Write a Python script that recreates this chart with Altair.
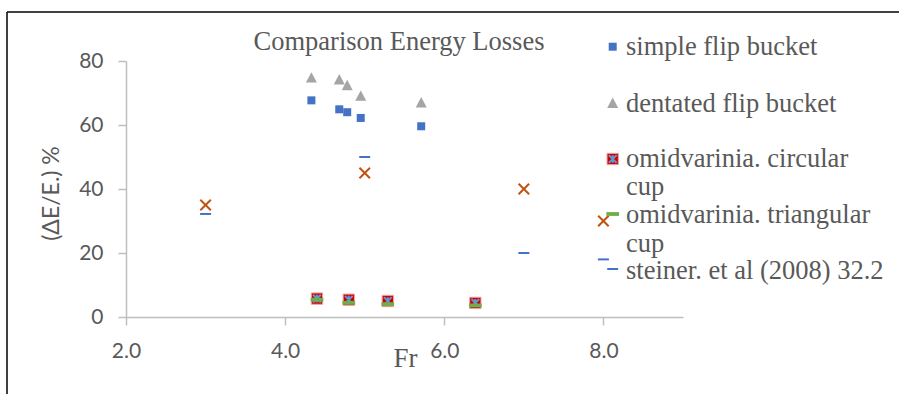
import altair as alt
import pandas as pd

# ---------------- data ----------------
series_names = [
    "simple flip bucket",
    "dentated flip bucket",
    "omidvarinia. circular cup",
    "omidvarinia. triangular cup",
    "steiner. et al (2008) 32.2",
    "unlabelled series",
]
simple_fr = [4.33, 4.68, 4.78, 4.95, 5.71]
simple_loss = [67.7, 64.9, 64.0, 62.2, 59.6]
dentated_fr = [4.33, 4.68, 4.78, 4.95, 5.71]
dentated_loss = [74.8, 74.2, 72.4, 69.1, 67.0]
circular_fr = [4.40, 4.80, 5.29, 6.39]
circular_loss = [5.75, 5.4, 5.0, 4.4]
triangular_fr = [4.40, 4.80, 5.29, 6.39]
triangular_loss = [5.4, 4.4, 4.0, 3.6]
steiner_fr = [3.0, 5.0, 7.0, 8.0]
steiner_loss = [32.2, 50.0, 20.0, 18.0]
other_fr = [3.0, 5.0, 7.0, 8.0]
other_loss = [35.0, 45.0, 40.0, 30.0]

x_ticks = [2.0, 4.0, 6.0, 8.0]
y_ticks = [0, 20, 40, 60, 80]
chart_title = "Comparison Energy Losses"
x_title = "Fr"
y_title = "(\u0394E/E.) %"
legend_labels = [
    "simple flip bucket",
    "dentated flip bucket",
    "omidvarinia. circular\ncup",
    "omidvarinia. triangular\ncup",
    "steiner. et al (2008) 32.2",
]

pairs = [
    (simple_fr, simple_loss),
    (dentated_fr, dentated_loss),
    (circular_fr, circular_loss),
    (triangular_fr, triangular_loss),
    (steiner_fr, steiner_loss),
    (other_fr, other_loss),
]
rows = []
for name, (xs, ys) in zip(series_names, pairs):
    for xv, yv in zip(xs, ys):
        rows.append({"series": name, "Fr": xv, "loss": yv})
df = pd.DataFrame(rows)

# ---------------- styling ----------------
GREY_TXT = "#595959"
AXIS_COL = "#BFBFBF"

styles = {
    series_names[0]: [dict(shape="square", filled=True, size=64, color="#4472C4", opacity=1)],
    series_names[1]: [dict(shape="M0,-1L1,0.9L-1,0.9Z", filled=True, size=121, color="#A5A5A5", opacity=1)],
    series_names[2]: [
        dict(shape="square", filled=True, size=128, color="#D00000", stroke="#F2A0A0", strokeWidth=1, opacity=1),
        dict(shape="M-1,-1L1,1M1,-1L-1,1M0,-1L0,1", filled=False, size=60, color="#5B9BD5", strokeWidth=2, opacity=1),
    ],
    series_names[3]: [dict(shape="M-1,-0.3H1V0.3H-1Z", filled=True, size=161, color="#70AD47", opacity=1)],
    series_names[4]: [dict(shape="M-1,0H1", filled=False, size=121, color="#4472C4", strokeWidth=2, opacity=1)],
    series_names[5]: [dict(shape="M-1,-1L1,1M1,-1L-1,1", filled=False, size=110, color="#BE5412", strokeWidth=2, opacity=1)],
}

X = alt.X(
    "Fr:Q",
    scale=alt.Scale(domain=[2, 9], nice=False, zero=False),
    axis=alt.Axis(
        values=x_ticks, format=".1f", title=x_title, grid=False,
        domainColor=AXIS_COL, domainWidth=1.5, tickColor=AXIS_COL, tickWidth=1.5, tickSize=8,
        labelFont="Lato", labelFontSize=21, labelColor=GREY_TXT, labelPadding=15,
        labelFlush=False, labelOverlap=False,
        titleFont="Liberation Serif", titleFontSize=27, titleColor=GREY_TXT, titleFontWeight="normal",
        titleX=279, titleY=49, titleBaseline="alphabetic", titleAlign="center",
    ),
)
Y = alt.Y(
    "loss:Q",
    scale=alt.Scale(domain=[0, 80], nice=False),
    axis=alt.Axis(
        values=y_ticks, format="d", title=y_title, grid=False,
        domainColor=AXIS_COL, domainWidth=1.5, tickColor=AXIS_COL, tickWidth=1.5, tickSize=8,
        labelFont="Lato", labelFontSize=21, labelColor=GREY_TXT, labelPadding=15,
        labelFlush=False, labelOverlap=False,
        titleFont="Lato", titleFontSize=23, titleColor=GREY_TXT, titleFontWeight="normal",
        titleX=-75, titleY=132, titleBaseline="middle", titleAlign="center", titleAngle=270,
    ),
)

layers = []

# frame lines (left and top) of the original picture
frame_df = pd.DataFrame({"k": [0]})
layers.append(
    alt.Chart(frame_df).mark_rule(color="black", strokeWidth=1.5).encode(
        x=alt.value(-119), y=alt.value(-49), y2=alt.value(340)
    )
)
layers.append(
    alt.Chart(frame_df).mark_rule(color="black", strokeWidth=1.5).encode(
        x=alt.value(-119), x2=alt.value(780), y=alt.value(-49)
    )
)

# data marks
for name in series_names:
    for st in styles[name]:
        layers.append(
            alt.Chart(df).transform_filter(alt.datum.series == name).mark_point(**st).encode(x=X, y=Y)
        )

# chart title
layers.append(
    alt.Chart(pd.DataFrame({"t": [chart_title]})).mark_text(
        font="Liberation Serif", fontSize=26.5, color=GREY_TXT, align="center", baseline="alphabetic"
    ).encode(text="t:N", x=alt.value(273), y=alt.value(-11))
)

# manual legend
sym_y = [-14.3, 42, 98, 153, 208]
txt_y = [-6, 50.7, 105.7, 162, 218.3]
for i, name in enumerate(series_names[:5]):
    one = pd.DataFrame({"label": [legend_labels[i]]})
    for st in styles[name]:
        layers.append(
            alt.Chart(one).mark_point(**st).encode(x=alt.value(486.7), y=alt.value(sym_y[i]))
        )
    layers.append(
        alt.Chart(one).mark_text(
            font="Liberation Serif", fontSize=26.5, color=GREY_TXT, align="left",
            baseline="alphabetic", lineBreak="\n", lineHeight=28.5,
        ).encode(text="label:N", x=alt.value(500), y=alt.value(txt_y[i]))
    )

chart = alt.layer(*layers).properties(
    width=557,
    height=256,
    autosize=alt.AutoSizeParams(type="none"),
    padding={"left": 126, "top": 61, "right": 216, "bottom": 77},
    background="white",
).configure_view(stroke=None)

chart.save("out.html", embed_options={"renderer": "svg", "actions": False})
